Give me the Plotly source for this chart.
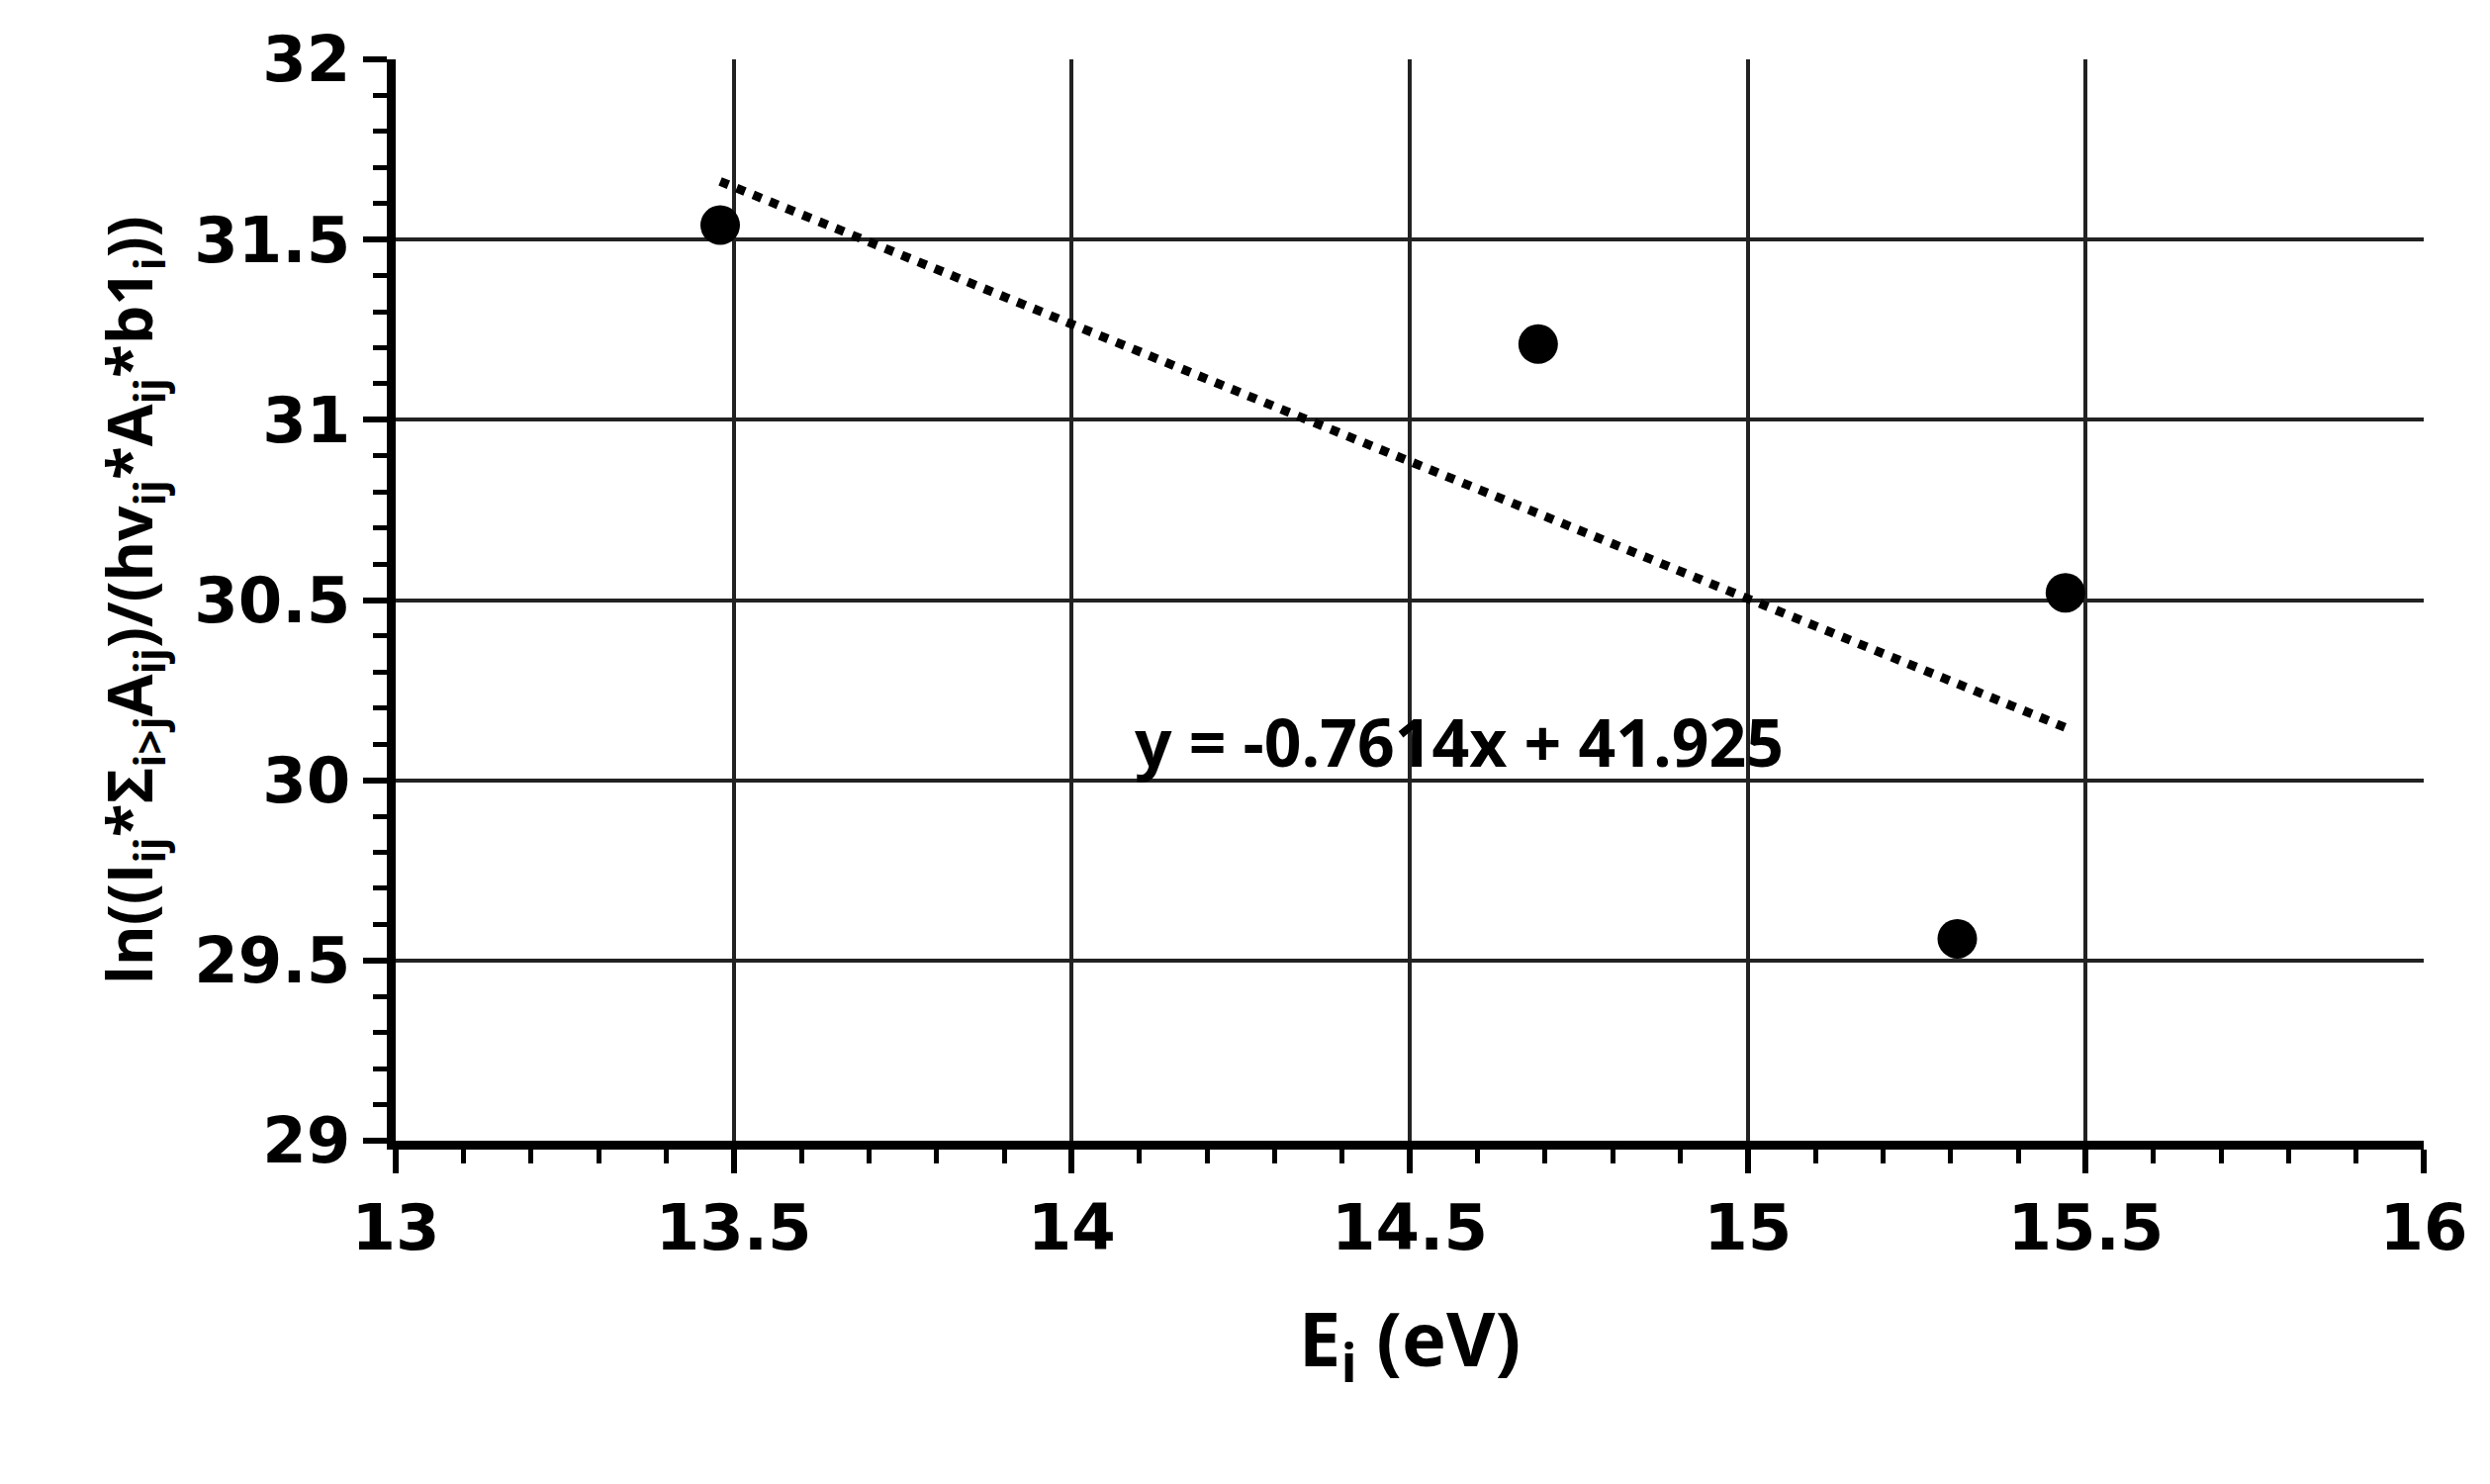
import plotly.graph_objects as go

# data
energy = [13.48, 14.69, 15.31, 15.47]
ln_val = [31.54, 31.21, 29.56, 30.52]
slope, intercept = -0.7614, 41.925
fit_x = [13.48, 15.47]
fit_y = [slope * x + intercept for x in fit_x]

x_ticks = [13, 13.5, 14, 14.5, 15, 15.5, 16]
y_ticks = [29, 29.5, 30, 30.5, 31, 31.5, 32]

font = "DejaVu Sans"

fig = go.Figure()
fig.add_trace(go.Scatter(x=fit_x, y=fit_y, mode="lines",
                         line=dict(color="black", width=9, dash="dot")))
fig.add_trace(go.Scatter(x=energy, y=ln_val, mode="markers",
                         marker=dict(color="black", size=40)))

axis_common = dict(
    showline=True, linecolor="black", linewidth=9, mirror=False,
    showgrid=True, gridcolor="#222", gridwidth=4, zeroline=False,
    ticks="outside", ticklen=24, tickwidth=6, tickcolor="black",
    tickfont=dict(family=font, size=64, color="black", weight="bold"),
)

fig.update_layout(
    width=2517, height=1500, showlegend=False,
    plot_bgcolor="white", paper_bgcolor="white",
    margin=dict(l=392, r=75, t=52, b=355),
    xaxis=dict(axis_common, range=[13, 16], tickvals=x_ticks,
               ticktext=[f"{v:g}" for v in x_ticks],
               minor=dict(dtick=0.1, ticks="outside", ticklen=14,
                          tickwidth=5, tickcolor="black", showgrid=False),
               title=dict(text="E<sub>i</sub> (eV)", standoff=55,
                          font=dict(family="Open Sans", size=76,
                                    color="black", weight="bold"))),
    yaxis=dict(axis_common, range=[29, 32], tickvals=y_ticks,
               ticktext=[f"{v:g}" for v in y_ticks],
               minor=dict(dtick=0.1, ticks="outside", ticklen=14,
                          tickwidth=5, tickcolor="black", showgrid=False),
               title=dict(text="ln((I<sub>ij</sub>*Σ<sub>i&gt;j</sub>A<sub>ij</sub>)/(hv<sub>ij</sub>*A<sub>ij</sub>*b1<sub>i</sub>))",
                          standoff=25,
                          font=dict(family="Open Sans", size=62,
                                    color="black", weight="bold"))),
    annotations=[dict(x=14.09, y=30.11, xref="x", yref="y",
                      text="y = -0.7614x + 41.925", showarrow=False,
                      xanchor="left", yanchor="middle",
                      font=dict(family="Open Sans", size=66, color="black",
                                weight="bold"))],
)

fig.write_html("out.html")
